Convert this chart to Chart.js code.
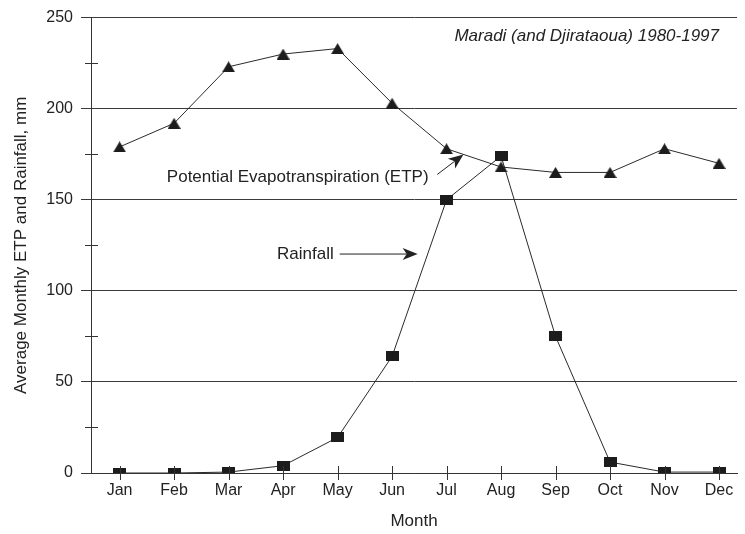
<!DOCTYPE html>
<html>
<head>
<meta charset="utf-8">
<script src="https://cdn.jsdelivr.net/npm/chart.js@4/dist/chart.umd.min.js"></script>
<style>
  html, body { margin: 0; padding: 0; background: #fff; }
  canvas { display: block; }
</style>
</head>
<body>
<canvas id="chart" width="745" height="534"></canvas>
<script>
// Monthly means, Maradi (and Djirataoua), 1980-1997
const months = ['Jan', 'Feb', 'Mar', 'Apr', 'May', 'Jun', 'Jul', 'Aug', 'Sep', 'Oct', 'Nov', 'Dec'];
const monthIndex = [1, 2, 3, 4, 5, 6, 7, 8, 9, 10, 11, 12];
const etp = [179, 192, 223, 230, 233, 203, 178, 168, 165, 165, 178, 170];
const rainfall = [0, 0, 0.5, 4, 19.5, 64, 150, 174, 75, 6, 0.5, 0.5];
const yTicks = [0, 50, 100, 150, 200, 250];
const yMinorTicks = [25, 75, 125, 175, 225];

const stationLabel = 'Maradi (and Djirataoua) 1980-1997';
const etpLabel = 'Potential Evapotranspiration (ETP)';
const rainLabel = 'Rainfall';
const yTitle = 'Average Monthly ETP and Rainfall, mm';
const xTitle = 'Month';

// Callout placement, in axis units (month, mm)
const notes = [
  { text: stationLabel, at: [12.0, 239.5], italic: true },
  { text: etpLabel, at: [6.67, 162.2], italic: false },
  { text: rainLabel, at: [4.93, 120.2], italic: false }
];
const arrows = [
  { from: [6.83, 163.9], to: [7.31, 174.8] },
  { from: [5.04, 120.2], to: [6.47, 120.2] }
];

const INK = '#222';
const FONT = "'Liberation Sans', Arial, Helvetica, sans-serif";

function squareMarker(w, h) {
  const c = document.createElement('canvas');
  c.width = w; c.height = h;
  const g = c.getContext('2d');
  g.fillStyle = '#1c1c1c';
  g.fillRect(0, 0, w, h);
  return c;
}
function triangleMarker(w, h) {
  const c = document.createElement('canvas');
  c.width = w; c.height = h;
  const g = c.getContext('2d');
  g.fillStyle = '#1c1c1c';
  g.beginPath();
  g.moveTo(w / 2, 0);
  g.lineTo(w, h);
  g.lineTo(0, h);
  g.closePath();
  g.fill();
  return c;
}

const toPoints = vals => vals.map((v, i) => ({ x: monthIndex[i], y: v }));

function drawArrow(ctx, x1, y1, x2, y2) {
  const ang = Math.atan2(y2 - y1, x2 - x1);
  const len = 15, half = 6, notch = 4;
  const bx = x2 - Math.cos(ang) * len, by = y2 - Math.sin(ang) * len;
  ctx.beginPath();
  ctx.moveTo(x1, y1);
  ctx.lineTo(x2 - Math.cos(ang) * (len - notch), y2 - Math.sin(ang) * (len - notch));
  ctx.stroke();
  ctx.beginPath();
  ctx.moveTo(x2, y2);
  ctx.lineTo(bx - Math.sin(ang) * half, by + Math.cos(ang) * half);
  ctx.lineTo(x2 - Math.cos(ang) * (len - notch), y2 - Math.sin(ang) * (len - notch));
  ctx.lineTo(bx + Math.sin(ang) * half, by - Math.cos(ang) * half);
  ctx.closePath();
  ctx.fill();
}

const decorations = {
  id: 'decorations',
  afterDraw(chart) {
    const { ctx, chartArea, scales: { x, y } } = chart;
    ctx.save();
    ctx.strokeStyle = '#333';
    ctx.fillStyle = INK;
    ctx.lineWidth = 1;

    // month tick marks crossing the x axis
    const y0 = Math.round(y.getPixelForValue(0));
    monthIndex.forEach(m => {
      const px = Math.round(x.getPixelForValue(m)) + 0.5;
      ctx.beginPath();
      ctx.moveTo(px, y0 - 7);
      ctx.lineTo(px, y0 + 7);
      ctx.stroke();
    });

    // minor tick marks crossing the y axis
    const ax = Math.round(chartArea.left);
    yMinorTicks.forEach(v => {
      const py = Math.round(y.getPixelForValue(v)) + 0.5;
      ctx.beginPath();
      ctx.moveTo(ax - 6, py);
      ctx.lineTo(ax + 7, py);
      ctx.stroke();
    });

    // callout texts
    ctx.textAlign = 'right';
    ctx.textBaseline = 'middle';
    notes.forEach(n => {
      ctx.font = (n.italic ? 'italic ' : '') + '17px ' + FONT;
      ctx.fillText(n.text, x.getPixelForValue(n.at[0]), y.getPixelForValue(n.at[1]));
    });

    // callout arrows
    ctx.strokeStyle = INK;
    arrows.forEach(a => {
      drawArrow(ctx,
        x.getPixelForValue(a.from[0]), y.getPixelForValue(a.from[1]),
        x.getPixelForValue(a.to[0]), y.getPixelForValue(a.to[1]));
    });
    ctx.restore();
  }
};

new Chart(document.getElementById('chart'), {
  type: 'line',
  data: {
    datasets: [
      {
        label: etpLabel,
        data: toPoints(etp),
        borderColor: '#2a2a2a',
        borderWidth: 1,
        pointStyle: triangleMarker(13, 11),
        pointRadius: 7,
        tension: 0,
        fill: false
      },
      {
        label: rainLabel,
        data: toPoints(rainfall),
        borderColor: '#2a2a2a',
        borderWidth: 1,
        pointStyle: squareMarker(13, 10),
        pointRadius: 7,
        tension: 0,
        fill: false,
        clip: 0
      }
    ]
  },
  options: {
    responsive: false,
    animation: false,
    events: [],
    layout: { padding: { top: 13, right: 0, left: 0, bottom: 0 } },
    plugins: {
      legend: { display: false },
      tooltip: { enabled: false }
    },
    scales: {
      x: {
        type: 'linear',
        min: 0.475,
        max: 12.33,
        afterBuildTicks: scale => { scale.ticks = monthIndex.map(v => ({ value: v })); },
        afterFit: scale => { scale.height = 61; },
        grid: { display: false, drawTicks: false },
        border: { display: true, color: '#333', width: 1 },
        ticks: {
          autoSkip: false,
          maxRotation: 0,
          padding: 8,
          color: INK,
          font: { family: FONT, size: 16 },
          callback: v => months[Math.round(v) - 1]
        },
        title: {
          display: true,
          text: xTitle,
          color: INK,
          font: { family: FONT, size: 17 },
          padding: { top: 4, bottom: 2 }
        }
      },
      y: {
        min: 0,
        max: 250,
        afterBuildTicks: scale => { scale.ticks = yTicks.map(v => ({ value: v })); },
        afterFit: scale => { scale.width = 91; },
        grid: { color: '#3a3a3a', lineWidth: 1, drawTicks: true, tickLength: 10, tickColor: '#3a3a3a' },
        border: { display: true, color: '#333', width: 1 },
        ticks: {
          padding: 8,
          color: INK,
          font: { family: FONT, size: 16 }
        },
        title: {
          display: true,
          text: yTitle,
          color: INK,
          font: { family: FONT, size: 17 },
          padding: { top: 11, bottom: 0 }
        }
      }
    }
  },
  plugins: [decorations]
});
</script>
</body>
</html>
